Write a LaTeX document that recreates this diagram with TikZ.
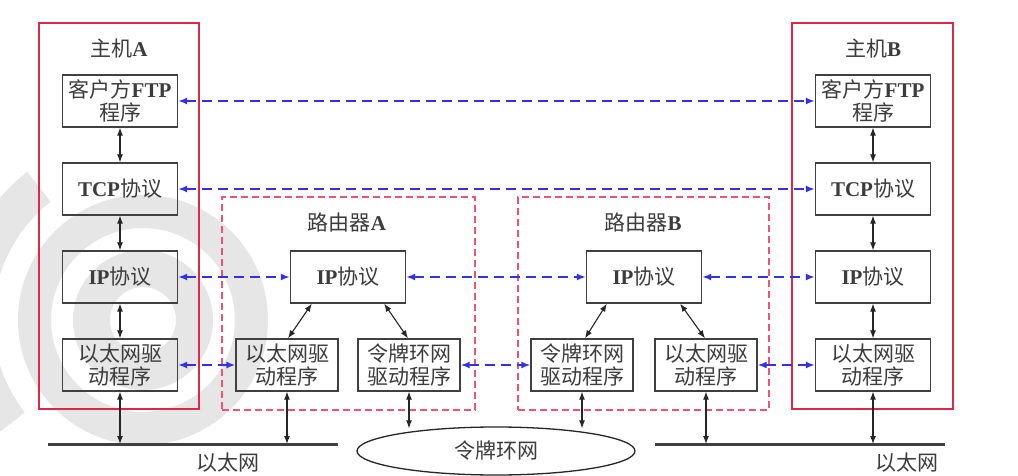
\documentclass[tikz,border=0pt]{standalone}
\usepackage{fontspec}
\setmainfont{Liberation Serif}
\newfontfamily\cjk{Noto Sans CJK SC}
\usetikzlibrary{arrows.meta,calc,shapes.geometric}
\newcommand\lt[1]{{\rmfamily\bfseries #1}}
\definecolor{hostred}{RGB}{220,40,70}
\definecolor{routerred}{RGB}{235,85,115}
\definecolor{pblue}{RGB}{50,50,225}
\definecolor{txt}{RGB}{60,60,60}
\definecolor{wm}{RGB}{230,230,230}
\begin{document}
\begin{tikzpicture}[x=1pt,y=-1pt,
  lbl/.style={font=\cjk\fontsize{21}{23}\selectfont, text=txt, inner sep=0pt, align=center},
  box/.style={lbl, draw=black!75, line width=1.3pt, minimum width=115pt, minimum height=52pt},
  sbox/.style={box, minimum width=102pt},
  hostframe/.style={draw=hostred, line width=1.4pt, minimum width=160pt, minimum height=386pt, inner sep=0pt},
  routerframe/.style={draw=routerred, line width=1.3pt, dash pattern=on 7pt off 4pt, minimum width=252pt, minimum height=213pt, inner sep=0pt},
  darr/.style={black!85, line width=1.1pt, {Latex[length=8pt,width=6pt]}-{Latex[length=8pt,width=6pt]}},
  barr/.style={pblue, line width=1.7pt, dash pattern=on 10pt off 6pt, {Latex[length=9pt,width=7pt]}-{Latex[length=9pt,width=7pt]}},
  net/.style={black!75, line width=3pt}
]
\useasboundingbox (0,0) rectangle (1018,476);
\fill[white] (0,0) rectangle (1018,476);

% faint watermark behind the diagram
\begin{scope}
\clip (0,0) rectangle (1018,476);
\coordinate (wmc) at (143,320);
\fill[wm, even odd rule] (wmc) circle (70) (wmc) circle (33);
\fill[wm, even odd rule] (wmc) circle (125) (wmc) circle (92);
\fill[wm] ($(wmc)+(142:150)$) arc (142:232:150) -- ($(wmc)+(232:188)$) arc (232:142:188) -- cycle;
\end{scope}

% frames
\node[hostframe] (hostA) at (119,216) {};
\node[hostframe, minimum width=161pt] (hostB) at (872.5,216) {};
\node[routerframe, minimum width=253pt] (routerA) at (348.5,303.5) {};
\node[routerframe, minimum width=251pt] (routerB) at (643.5,303.5) {};

% titles
\node[lbl] (tA) at (119,49) {主机\lt{A}};
\node[lbl] (tB) at (873,49) {主机\lt{B}};
\node[lbl] (tRA) at (347,223) {路由器\lt{A}};
\node[lbl] (tRB) at (643,223) {路由器\lt{B}};

% host A
\node[box] (ftpA) at (120,101) {客户方\lt{FTP}\\程序};
\node[box] (tcpA) at (120,189) {\lt{TCP}协议};
\node[box] (ipA) at (120,277) {\lt{IP}协议};
\node[box] (ethA) at (120,365) {以太网驱\\动程序};

% host B
\node[box] (ftpB) at (873,101) {客户方\lt{FTP}\\程序};
\node[box] (tcpB) at (873,189) {\lt{TCP}协议};
\node[box] (ipB) at (873,277) {\lt{IP}协议};
\node[box] (ethB) at (873,365) {以太网驱\\动程序};

% router A
\node[box] (rIPA) at (348,277) {\lt{IP}协议};
\node[sbox] (rEthA) at (287,365) {以太网驱\\动程序};
\node[sbox] (rTokA) at (409,365) {令牌环网\\驱动程序};

% router B
\node[box] (rIPB) at (644,277) {\lt{IP}协议};
\node[sbox] (rTokB) at (582,365) {令牌环网\\驱动程序};
\node[sbox] (rEthB) at (706,365) {以太网驱\\动程序};

% networks
\coordinate (eL1) at (48,444);
\coordinate (eL2) at (338,444);
\coordinate (eR1) at (655,444);
\coordinate (eR2) at (945,444);
\draw[net] (eL1) -- (eL2);
\draw[net] (eR1) -- (eR2);
\node[lbl] (netLA) at (228,463) {以太网};
\node[lbl] (netLB) at (907,463) {以太网};
\node[lbl, draw=black!85, line width=1.3pt, ellipse, minimum width=278pt, minimum height=48pt] (ring) at (496,451) {令牌环网};

% vertical arrows in hosts
\draw[darr] (ftpA) -- (tcpA);
\draw[darr] (tcpA) -- (ipA);
\draw[darr] (ipA) -- (ethA);
\draw[darr] (ethA.south) -- (ethA.south |- eL1);
\draw[darr] (ftpB) -- (tcpB);
\draw[darr] (tcpB) -- (ipB);
\draw[darr] (ipB) -- (ethB);
\draw[darr] (ethB.south) -- (ethB.south |- eR1);

% router internal arrows
\draw[darr] ($(rIPA.south west)+(22,0)$) -- ($(rEthA.north)+(1,0)$);
\draw[darr] ($(rIPA.south east)+(-22,0)$) -- ($(rTokA.north)+(-1,0)$);
\draw[darr] ($(rIPB.south west)+(21,0)$) -- ($(rTokB.north)+(3,0)$);
\draw[darr] ($(rIPB.south east)+(-22,0)$) -- ($(rEthB.north)+(-1,0)$);
\draw[darr] (rEthA.south) -- (rEthA.south |- eL1);
\draw[darr] (rEthB.south) -- (rEthB.south |- eR1);
\draw[darr] (rTokA.south) -- ($(rTokA.south |- ring.north)+(0,2)$);
\draw[darr] (rTokB.south) -- ($(rTokB.south |- ring.north)+(0,2)$);

% peer (blue dashed) arrows
\draw[barr] (ftpA) -- (ftpB);
\draw[barr] (tcpA) -- (tcpB);
\draw[barr] (ipA) -- (rIPA);
\draw[barr] (rIPA) -- (rIPB);
\draw[barr] (rIPB) -- (ipB);
\draw[barr] (ethA) -- (rEthA);
\draw[barr] (rTokA) -- (rTokB);
\draw[barr] (rEthB) -- (ethB);
\end{tikzpicture}
\end{document}
